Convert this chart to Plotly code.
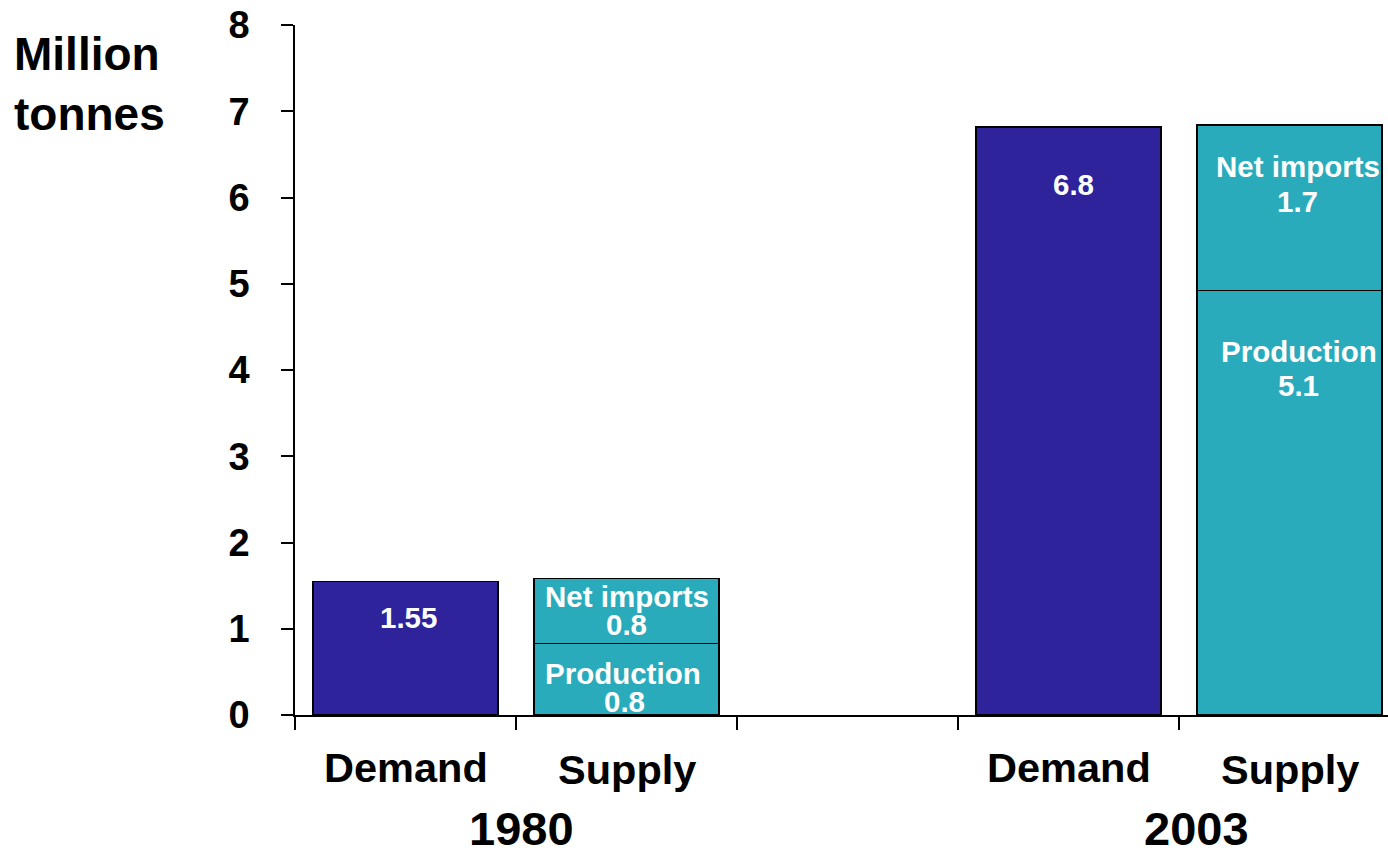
import plotly.graph_objects as go

# ---- data ----
years = ["1980", "2003"]
bar_names = ["Demand", "Supply"]
demand = [1.55, 6.82]
production = [0.83, 4.92]
net_imports = [0.75, 1.92]
demand_labels = ["1.55", "6.8"]
production_labels = ["0.8", "5.1"]
import_labels = ["0.8", "1.7"]
y_ticks = [0, 1, 2, 3, 4, 5, 6, 7, 8]

# slot index for each bar (slot 2 is an empty gap)
demand_x = [0, 3]
supply_x = [1, 4]

DEMAND_COLOR = "rgb(46,35,154)"
SUPPLY_COLOR = "rgb(42,171,188)"
FONT = "Liberation Sans, Arial, sans-serif"

W, H = 1388, 854
L, R, T, B = 295, 0, 25, 139
slot_px = 221.0
dom_w = W - L - R
x_min = -0.5
x_max = x_min + dom_w / slot_px

fig = go.Figure()
line = dict(color="black", width=1.5)
fig.add_trace(go.Bar(x=demand_x, y=demand, width=0.835, marker=dict(color=DEMAND_COLOR, line=line),
                     name="Demand", hoverinfo="y"))
fig.add_trace(go.Bar(x=supply_x, y=production, width=0.835, marker=dict(color=SUPPLY_COLOR, line=line),
                     name="Production", hoverinfo="y"))
fig.add_trace(go.Bar(x=supply_x, y=net_imports, width=0.835, marker=dict(color=SUPPLY_COLOR, line=line),
                     name="Net imports", hoverinfo="y"))

ann = []
def txt(x, y, s, size=29.5, xshift=0, yshift=0, color="white", yanchor="middle"):
    ann.append(dict(x=x, y=y, xref="x", yref="y", text=s, showarrow=False, xshift=xshift, yshift=yshift,
                    xanchor="center", yanchor=yanchor,
                    font=dict(family=FONT, size=size, color=color, weight="bold")))

# in-bar labels (1980, 2003)
txt(demand_x[0], 1.125, demand_labels[0], xshift=3)
txt(demand_x[1], 6.15, demand_labels[1], xshift=5)
txt(supply_x[0], 1.372, "Net imports")
txt(supply_x[0], 1.044, import_labels[0])
txt(supply_x[0], 0.484, "Production", xshift=-4)
txt(supply_x[0], 0.154, production_labels[0], xshift=-2)
txt(supply_x[1], 6.36, "Net imports", xshift=8)
txt(supply_x[1], 5.955, import_labels[1], xshift=8)
txt(supply_x[1], 4.21, "Production", xshift=9)
txt(supply_x[1], 3.82, production_labels[1], xshift=9)

# category labels below axis
for i in range(2):
    txt(demand_x[i], 0, bar_names[0], size=41.5, color="black", yshift=-52)
    txt(supply_x[i], 0, bar_names[1], size=41.5, color="black", yshift=-54)
txt(0.5, 0, years[0], size=47, color="black", xshift=5, yshift=-113)
txt(3.5, 0, years[1], size=47, color="black", xshift=17, yshift=-113)

# axis title
ann.append(dict(x=(12 - L) / dom_w, y=1 + (T - 26) / (H - T - B), xref="paper", yref="paper",
                text="Million<br>tonnes", showarrow=False, xanchor="left", yanchor="top", align="left",
                font=dict(family=FONT, size=46, color="black", weight="bold")))

fig.update_layout(
    width=W, height=H, margin=dict(l=L, r=R, t=T, b=B, pad=0),
    plot_bgcolor="white", paper_bgcolor="white",
    barmode="stack", showlegend=False, annotations=ann,
    xaxis=dict(range=[x_min, x_max], tickvals=[-0.5, 0.5, 1.5, 2.5, 3.5], ticktext=["", "", "", "", ""],
               ticks="outside", ticklen=13, tickwidth=1.5, tickcolor="black",
               showline=True, linecolor="black", linewidth=1.5, showgrid=False, zeroline=False),
    yaxis=dict(range=[0, 8], tickvals=y_ticks, ticks="outside", ticklen=12, tickwidth=1.5, tickcolor="black",
               showline=True, linecolor="black", linewidth=1.5, showgrid=False, zeroline=False,
               ticklabelstandoff=24,
               tickfont=dict(family=FONT, size=38, color="black", weight="bold")),
)
fig.add_shape(type="line", xref="paper", yref="y", x0=-13 / dom_w, x1=0, y0=0, y1=0,
              line=dict(color="black", width=1.5))

fig.write_html("out.html")
